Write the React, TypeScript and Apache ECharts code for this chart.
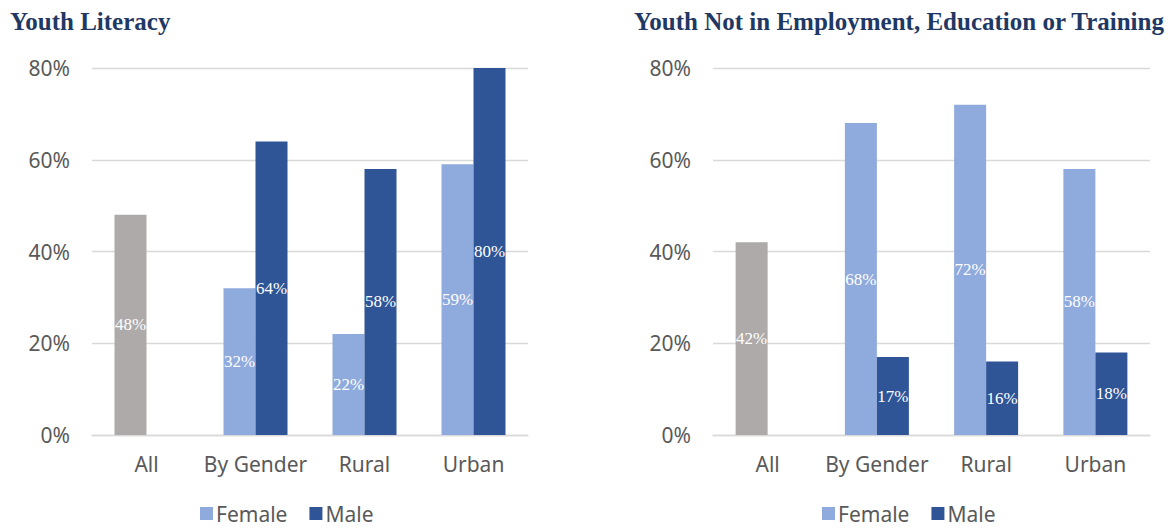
import React, { useEffect, useRef } from "react";
import * as echarts from "echarts";

const categories = ["All", "By Gender", "Rural", "Urban"];
const literacyFemale = [48, 32, 22, 59];
const literacyMale: (number | null)[] = [null, 64, 58, 80];
const neetFemale = [42, 68, 72, 58];
const neetMale: (number | null)[] = [null, 17, 16, 18];
const yTicks = [0, 20, 40, 60, 80];

const GRAY = "#ADAAA9";
const LIGHT = "#8FAADC";
const DARK = "#2F5597";
const AXIS_FONT = "Noto Sans";
const TEXT_GRAY = "#595959";

function firstGray(vals: number[]) {
  return vals.map((v, i) => (i === 0 ? { value: v, itemStyle: { color: GRAY } } : v));
}

export default function App() {
  const ref = useRef<HTMLDivElement>(null);
  useEffect(() => {
    if (!ref.current) return;
    const chart = echarts.init(ref.current, null, { renderer: "svg" });
    const label = {
      show: true,
      position: "inside",
      color: "#ffffff",
      fontFamily: "Liberation Serif",
      fontSize: 17,
      formatter: (p: any) => `${p.value}%`,
    };
    const yAxis = (gi: number) => ({
      type: "value",
      gridIndex: gi,
      min: yTicks[0],
      max: yTicks[yTicks.length - 1],
      interval: 20,
      axisLabel: { formatter: "{value}%", color: TEXT_GRAY, fontFamily: AXIS_FONT, fontSize: 21, margin: 22 },
      splitLine: { lineStyle: { color: "#D9D9D9", width: 1.3 } },
      axisLine: { show: false },
      axisTick: { show: false },
    });
    const xAxis = (gi: number) => ({
      type: "category",
      gridIndex: gi,
      data: categories,
      axisLine: { lineStyle: { color: "#D9D9D9", width: 1.3 } },
      axisTick: { show: false },
      axisLabel: { interval: 0, color: TEXT_GRAY, fontFamily: AXIS_FONT, fontSize: 21, margin: 18 },
    });
    const legend = (left: number) => ({
      left,
      top: 503,
      icon: "rect",
      itemWidth: 13,
      itemHeight: 13,
      itemGap: 22,
      padding: 0,
      data: ["Female", "Male"],
      textStyle: { color: TEXT_GRAY, fontFamily: AXIS_FONT, fontSize: 21, lineHeight: 21, padding: [0, 0, 0, -2] },
      selectedMode: false,
    });
    const titleStyle = { fontFamily: "Liberation Serif", fontWeight: "bold", fontSize: 25, color: "#1F3864" };
    chart.setOption({
      animation: false,
      title: [
        { text: "Youth Literacy", left: 10, top: 9, padding: 0, textStyle: titleStyle },
        { text: "Youth Not in Employment, Education or Training", left: 634, top: 9, padding: 0, textStyle: titleStyle },
      ],
      legend: [legend(200), legend(822)],
      grid: [
        { left: 92, top: 68, width: 436, height: 367 },
        { left: 713, top: 68, width: 437, height: 367 },
      ],
      xAxis: [xAxis(0), xAxis(1)],
      yAxis: [yAxis(0), yAxis(1)],
      series: [
        { type: "bar", name: "Female", xAxisIndex: 0, yAxisIndex: 0, data: firstGray(literacyFemale), barWidth: 32, barGap: "0%", itemStyle: { color: LIGHT }, label },
        { type: "bar", name: "Male", xAxisIndex: 0, yAxisIndex: 0, data: literacyMale, barWidth: 32, barGap: "0%", itemStyle: { color: DARK }, label },
        { type: "bar", name: "Female", xAxisIndex: 1, yAxisIndex: 1, data: firstGray(neetFemale), barWidth: 32, barGap: "0%", itemStyle: { color: LIGHT }, label },
        { type: "bar", name: "Male", xAxisIndex: 1, yAxisIndex: 1, data: neetMale, barWidth: 32, barGap: "0%", itemStyle: { color: DARK }, label },
      ],
    });
    return () => chart.dispose();
  }, []);
  return <div ref={ref} style={{ position: "fixed", left: 0, top: 0, width: 1176, height: 529, background: "#fff" }} />;
}
